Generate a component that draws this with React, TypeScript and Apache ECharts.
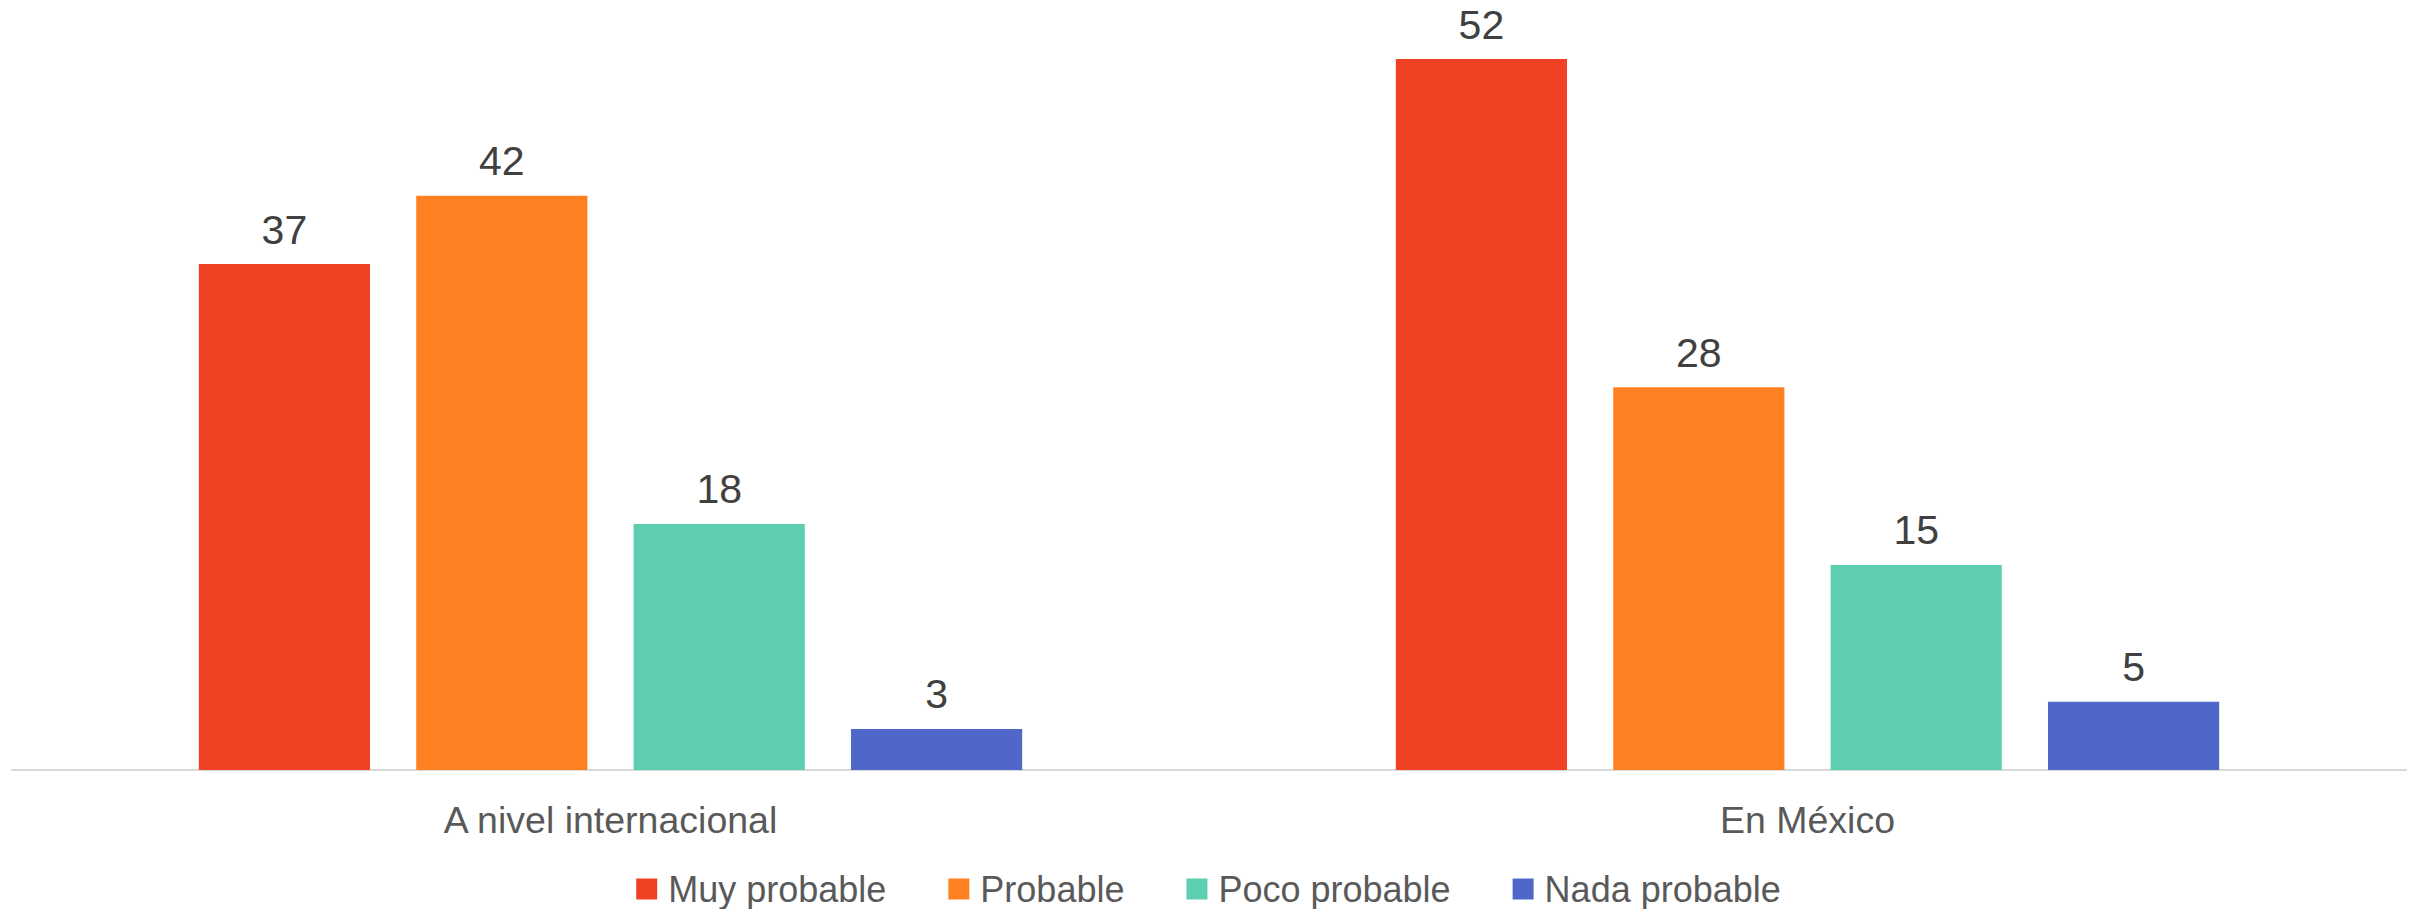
import React, { useEffect, useRef } from "react";
import * as echarts from "echarts";

const categories = ["A nivel internacional", "En México"];
const seriesNames = ["Muy probable", "Probable", "Poco probable", "Nada probable"];
const muyProbable = [37, 52];
const probable = [42, 28];
const pocoProbable = [18, 15];
const nadaProbable = [3, 5];
const seriesColors = ["#F04124", "#FF8021", "#5DCEAF", "#4E67C8"];

export default function App() {
  const ref = useRef<HTMLDivElement>(null);
  useEffect(() => {
    if (!ref.current) return;
    const chart = echarts.init(ref.current, undefined, { renderer: "svg" });
    const values = [muyProbable, probable, pocoProbable, nadaProbable];
    chart.setOption({
      animation: false,
      backgroundColor: "#ffffff",
      textStyle: { fontFamily: "Liberation Sans, Arial, sans-serif" },
      grid: { left: 12, right: 11, top: 18, bottom: 139, containLabel: false },
      legend: {
        data: seriesNames,
        left: "center",
        top: 866,
        itemWidth: 21,
        itemHeight: 21,
        itemGap: 62,
        icon: "rect",
        textStyle: { fontSize: 36, color: "#595959", padding: [0, 0, 0, 6] },
      },
      xAxis: {
        type: "category",
        data: categories,
        axisLine: { show: true, lineStyle: { color: "#D9D9D9", width: 2 } },
        axisTick: { show: false },
        axisLabel: { fontSize: 37.5, color: "#595959", margin: 31 },
      },
      yAxis: {
        type: "value",
        min: 0,
        max: 55,
        show: false,
        splitLine: { show: false },
      },
      series: seriesNames.map((name, i) => ({
        name,
        type: "bar",
        data: values[i],
        barWidth: "14.3%",
        barGap: "27%",
        itemStyle: { color: seriesColors[i] },
        label: {
          show: true,
          position: "top",
          distance: 14,
          fontSize: 41,
          color: "#404040",
        },
      })),
    });
    return () => chart.dispose();
  }, []);
  return (
    <div
      ref={ref}
      style={{ position: "absolute", left: 0, top: 0, width: 2417, height: 909 }}
    />
  );
}
